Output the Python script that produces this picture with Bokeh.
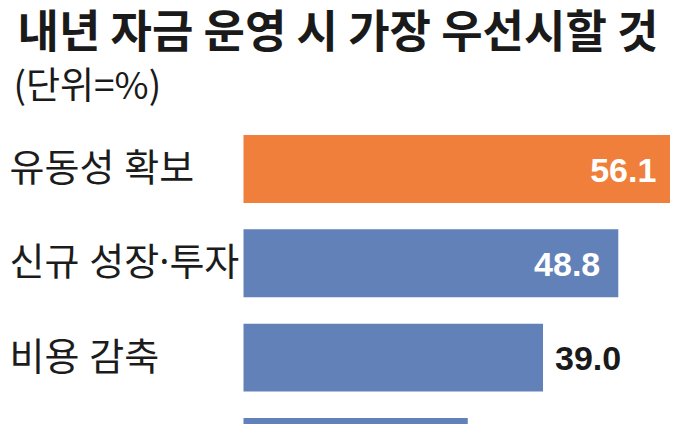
from bokeh.plotting import figure
from bokeh.models import ColumnDataSource, Range1d, Label
from bokeh.core.properties import value
from bokeh.embed import file_html
from bokeh.resources import INLINE

title_text = "내년 자금 운영 시 가장 우선시할 것"
unit_text = "(단위=%)"
categories = ["유동성 확보", "신규 성장·투자", "비용 감축", "부채 축소"]
values = [56.1, 48.8, 39.0, 29.2]
colors = ["#F07F3B", "#6281B9", "#6281B9", "#6281B9"]

idx = list(range(len(categories)))
W, H = 670, 424
PXU = 7.68
BAR_LEFT = 243
x0 = -BAR_LEFT / PXU
pitch = 94.3
first_center = 168.5
y_top = -first_center / pitch
y_bot = (H - first_center) / pitch

p = figure(width=W, height=H, output_backend="svg", toolbar_location=None,
           x_range=Range1d(x0, x0 + W / PXU), y_range=Range1d(y_bot, y_top),
           min_border=0, outline_line_color=None)
p.axis.visible = False
p.grid.visible = False
p.background_fill_color = "white"
p.border_fill_color = "white"

inside = [v >= 45 for v in values]
src = ColumnDataSource(dict(
    y=idx, cat=categories, v=values, color=colors,
    lx=[x0 for _ in values],
))
p.hbar(y="y", left=0, right="v", height=0.72, fill_color="color", line_color=None, source=src)

p.text(x="lx", y="y", text="cat", x_offset=9, y_offset=-3, text_align="left", text_baseline="middle",
       text_font=value("Noto Sans, Noto Sans CJK KR"), text_font_size="38px",
       text_color="#1c1c1c", source=src)

src_in = ColumnDataSource(dict(
    y=[i for i in idx if inside[i]], v=[values[i] for i in idx if inside[i]],
    lbl=["%.1f" % values[i] for i in idx if inside[i]]))
src_out = ColumnDataSource(dict(
    y=[i for i in idx if not inside[i]], v=[values[i] for i in idx if not inside[i]],
    lbl=["%.1f" % values[i] for i in idx if not inside[i]]))
p.text(x="v", y="y", text="lbl", x_offset=-18, y_offset=1, text_align="right", text_baseline="middle",
       text_font=value("Liberation Sans"), text_font_style="bold", text_font_size="34px",
       text_color="white", source=src_in)
p.text(x="v", y="y", text="lbl", x_offset=12, y_offset=1, text_align="left", text_baseline="middle",
       text_font=value("Liberation Sans"), text_font_style="bold", text_font_size="34px",
       text_color="#1a1a1a", source=src_out)

p.add_layout(Label(x=17, y=H - 28, x_units="screen", y_units="screen", text=title_text,
                   text_font="Noto Sans CJK KR", text_font_style="bold", text_font_size="45px",
                   text_baseline="middle", text_color="#1a1a1a"))
p.add_layout(Label(x=13, y=H - 82, x_units="screen", y_units="screen", text=unit_text,
                   text_font="Noto Sans CJK KR", text_font_size="37px",
                   text_baseline="middle", text_color="#1a1a1a"))

open("out.html", "w").write(file_html(p, INLINE))
